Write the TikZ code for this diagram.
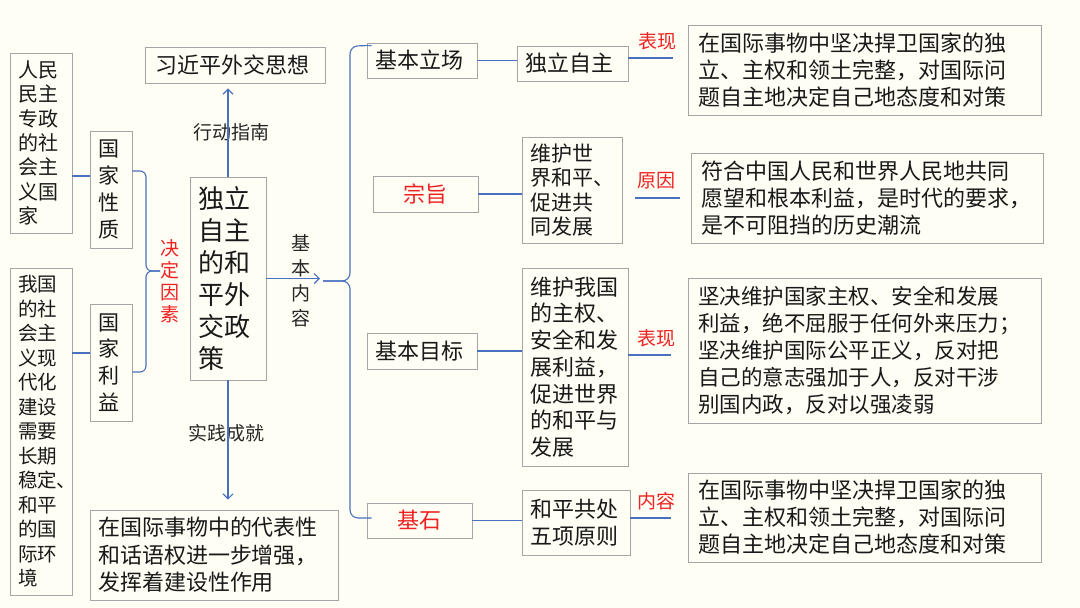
\documentclass[tikz,border=0pt]{standalone}
\usepackage{fontspec}
\setmainfont{Noto Sans CJK SC}
\usetikzlibrary{arrows.meta}
\definecolor{XianLan}{HTML}{4A70C0}
\definecolor{KuangHui}{HTML}{A5A5A5}
\definecolor{BiaoHong}{HTML}{EE2222}
\definecolor{BeiJing}{HTML}{FFFEF4}
\newcommand\zihao[2]{\fontsize{#1}{#2}\selectfont}

\begin{document}
\begin{tikzpicture}[x=1pt,y=-1pt,
  kuang/.style={draw=KuangHui,line width=0.9pt,inner xsep=8pt,inner ysep=0pt,
    align=left,text=black!90,font=\zihao{22}{27}},
  hongzi/.style={text=BiaoHong,inner sep=1pt,align=center,font=\zihao{19}{22}},
  biaoqian/.style={text=black!85,inner sep=1pt,align=center,font=\zihao{19}{25}},
  xian/.style={draw=XianLan,line width=1.1pt},
  jiantou/.style={xian,-{Straight Barb[length=5pt,width=10pt]}}
]
\fill[BeiJing] (0,0) rectangle (1080,608);
\useasboundingbox (0,0) rectangle (1080,608);

% left side
\node[kuang,text width=46pt,minimum height=180pt,font=\zihao{20}{24.3}] (renmin) at (41,143) {人民\\民主\\专政\\的社\\会主\\义国\\家};
\node[kuang,text width=46pt,minimum height=327pt,font=\zihao{19.5}{24.5}] (woguo) at (41,431.5) {我国\\的社\\会主\\义现\\代化\\建设\\需要\\长期\\稳定、\\和平\\的国\\际环\\境};
\node[kuang,text width=26pt,minimum height=117pt,font=\zihao{21}{26.7}] (xingzhi) at (111,189.5) {国\\家\\性\\质};
\node[kuang,text width=26pt,minimum height=117pt,font=\zihao{21}{26.7}] (liyi) at (111,362.5) {国\\家\\利\\益};
\node[hongzi] (jueding) at (170,281) {决\\定\\因\\素};

% centre
\node[kuang,text width=60pt,minimum height=203pt,font=\zihao{26}{32}] (zhengce) at (228,278.5) {独立\\自主\\的和\\平外\\交政\\策};
\node[kuang,inner xsep=10pt,text width=160pt,minimum height=36pt] (sixiang) at (235,65) {习近平外交思想};
\node[kuang,text width=232pt,minimum height=90pt,font=\zihao{22}{27.5}] (chengjiu) at (214,555) {在国际事物中的代表性\\和话语权进一步增强，\\发挥着建设性作用};
\node[biaoqian] (xingdong) at (231,132) {行动指南};
\node[biaoqian] (shijian) at (226,433) {实践成就};
\node[biaoqian] (neirong) at (301,281) {基\\本\\内\\容};

% basic content
\node[kuang,text width=94pt,minimum height=35pt] (lichang) at (422,60.5) {基本立场};
\node[kuang,text width=89pt,minimum height=36pt,align=center,text=BiaoHong] (zongzhi) at (425.5,194) {宗旨};
\node[kuang,text width=94pt,minimum height=36pt] (mubiao) at (422,351) {基本目标};
\node[kuang,text width=89pt,minimum height=35pt,align=center,text=BiaoHong] (jishi) at (419.5,520.5) {基石};

\node[kuang,text width=95pt,minimum height=35pt] (zizhu) at (572.5,63.5) {独立自主};
\node[kuang,text width=84pt,minimum height=106pt,font=\zihao{21}{24.4}] (heping) at (572,190) {维护世\\界和平、\\促进共\\同发展};
\node[kuang,text width=90pt,minimum height=198pt,font=\zihao{22}{26.7}] (liyi2) at (575,367) {维护我国\\的主权、\\安全和发\\展利益，\\促进世界\\的和平与\\发展};
\node[kuang,text width=92pt,minimum height=65pt] (yuanze) at (576,522.5) {和平共处\\五项原则};

\node[kuang,inner xsep=10pt,text width=333pt,minimum height=90pt] (tixian) at (864.5,70) {在国际事物中坚决捍卫国家的独\\立、主权和领土完整，对国际问\\题自主地决定自己地态度和对策};
\node[kuang,inner xsep=10pt,text width=332pt,minimum height=90pt] (yuanyin) at (867,198) {符合中国人民和世界人民地共同\\愿望和根本利益，是时代的要求，\\是不可阻挡的历史潮流};
\node[kuang,inner xsep=10pt,text width=333pt,minimum height=145pt,font=\zihao{21.5}{27}] (biaoxian) at (864.5,350.5) {坚决维护国家主权、安全和发展\\利益，绝不屈服于任何外来压力；\\坚决维护国际公平正义，反对把\\自己的意志强加于人，反对干涉\\别国内政，反对以强凌弱};
\node[kuang,inner xsep=10pt,text width=333pt,minimum height=89pt] (wuxiang) at (864.5,517.5) {在国际事物中坚决捍卫国家的独\\立、主权和领土完整，对国际问\\题自主地决定自己地态度和对策};

% connectors
\coordinate (zuojian) at (160,271);
\coordinate (youjian) at (323,281);
\coordinate (duan1) at (673,58);
\coordinate (duan2) at (680,198);
\coordinate (duan3) at (671,355);
\coordinate (duan4) at (671,518);

\draw[xian] ([yshift=-33pt]renmin.east) -- ([yshift=13.5pt]xingzhi.west);
\draw[xian] ([yshift=78.5pt]woguo.east) -- ([yshift=9.5pt]liyi.west);
\draw[xian,rounded corners=6pt] ([yshift=18.5pt]xingzhi.east) -- (146,171) -- (146,271) -- (zuojian);
\draw[xian,rounded corners=6pt] ([yshift=-9.5pt]liyi.east) -- (146,372) -- (146,271) -- (zuojian);

\draw[jiantou,shorten >=5pt] (zhengce.north) -- (zhengce.north |- sixiang.south);
\draw[jiantou,shorten >=10pt] (zhengce.south) -- (zhengce.south |- chengjiu.north);
\draw[jiantou,shorten >=3pt] (zhengce.east) -- (zhengce.east -| youjian);

\draw[xian,rounded corners=8pt] ([xshift=5pt,yshift=-3pt]lichang.north west) -- (350,46) -- (350,281) -- (youjian);
\draw[xian,rounded corners=8pt] ([xshift=5pt,yshift=2.5pt]jishi.west) -- (350,518) -- (350,281) -- (youjian);

\foreach \a/\b in {lichang/zizhu,zongzhi/heping,mubiao/liyi2,jishi/yuanze}
  \draw[xian] (\a.east) -- (\a.east -| \b.west);

\draw[xian] (zizhu.east |- duan1) -- node[hongzi,pos=.66,above=6pt] (bx1) {表现} (duan1);
\draw[xian,shorten <=13pt] (heping.east |- duan2) -- node[hongzi,pos=.6,above=7pt] (yy1) {原因} (duan2);
\draw[xian] (liyi2.east |- duan3) -- node[hongzi,pos=.66,above=6pt] (bx2) {表现} (duan3);
\draw[xian] (yuanze.east |- duan4) -- node[hongzi,pos=.64,above=6pt] (nr1) {内容} (duan4);
\end{tikzpicture}
\end{document}
